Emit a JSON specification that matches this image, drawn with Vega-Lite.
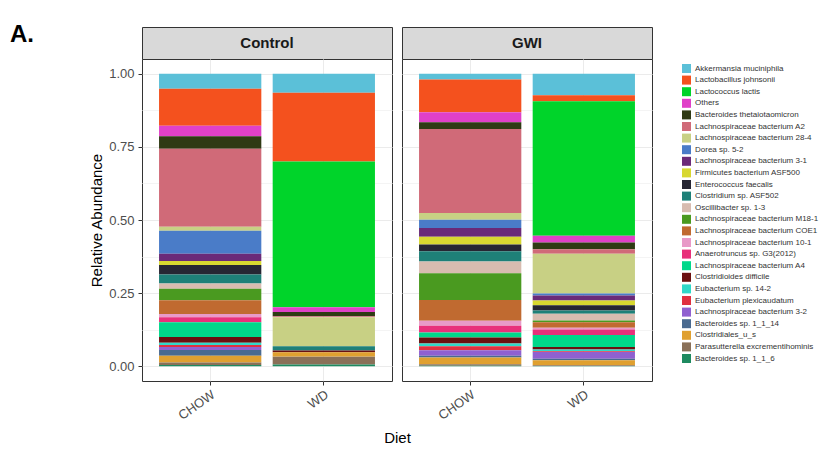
{
  "$schema": "https://vega.github.io/schema/vega-lite/v6.json",
  "background": "white",
  "padding": {"left": 10, "top": 22, "right": 5, "bottom": 5},
  "title": {"text": "A.", "anchor": "start", "frame": "group", "fontSize": 24, "fontWeight": "bold", "font": "Liberation Sans", "color": "#000000", "dx": -132, "offset": -20},
  "datasets": {
    "species": [
      {"Species": "Akkermansia muciniphila", "rank": 1},
      {"Species": "Lactobacillus johnsonii", "rank": 2},
      {"Species": "Lactococcus lactis", "rank": 3},
      {"Species": "Others", "rank": 4},
      {"Species": "Bacteroides thetaiotaomicron", "rank": 5},
      {"Species": "Lachnospiraceae bacterium A2", "rank": 6},
      {"Species": "Lachnospiraceae bacterium 28-4", "rank": 7},
      {"Species": "Dorea sp. 5-2", "rank": 8},
      {"Species": "Lachnospiraceae bacterium 3-1", "rank": 9},
      {"Species": "Firmicutes bacterium ASF500", "rank": 10},
      {"Species": "Enterococcus faecalis", "rank": 11},
      {"Species": "Clostridium sp. ASF502", "rank": 12},
      {"Species": "Oscillibacter sp. 1-3", "rank": 13},
      {"Species": "Lachnospiraceae bacterium M18-1", "rank": 14},
      {"Species": "Lachnospiraceae bacterium COE1", "rank": 15},
      {"Species": "Lachnospiraceae bacterium 10-1", "rank": 16},
      {"Species": "Anaerotruncus sp. G3(2012)", "rank": 17},
      {"Species": "Lachnospiraceae bacterium A4", "rank": 18},
      {"Species": "Clostridioides difficile", "rank": 19},
      {"Species": "Eubacterium sp. 14-2", "rank": 20},
      {"Species": "Eubacterium plexicaudatum", "rank": 21},
      {"Species": "Lachnospiraceae bacterium 3-2", "rank": 22},
      {"Species": "Bacteroides sp. 1_1_14", "rank": 23},
      {"Species": "Clostridiales_u_s", "rank": 24},
      {"Species": "Parasutterella excrementihominis", "rank": 25},
      {"Species": "Bacteroides sp. 1_1_6", "rank": 26}
    ],
    "abund": [
      {"Group": "Control", "Diet": "CHOW", "Species": "Akkermansia muciniphila", "Abundance": 0.052},
      {"Group": "Control", "Diet": "CHOW", "Species": "Lactobacillus johnsonii", "Abundance": 0.126},
      {"Group": "Control", "Diet": "CHOW", "Species": "Others", "Abundance": 0.036},
      {"Group": "Control", "Diet": "CHOW", "Species": "Bacteroides thetaiotaomicron", "Abundance": 0.043},
      {"Group": "Control", "Diet": "CHOW", "Species": "Lachnospiraceae bacterium A2", "Abundance": 0.266},
      {"Group": "Control", "Diet": "CHOW", "Species": "Lachnospiraceae bacterium 28-4", "Abundance": 0.014},
      {"Group": "Control", "Diet": "CHOW", "Species": "Dorea sp. 5-2", "Abundance": 0.078},
      {"Group": "Control", "Diet": "CHOW", "Species": "Lachnospiraceae bacterium 3-1", "Abundance": 0.025},
      {"Group": "Control", "Diet": "CHOW", "Species": "Firmicutes bacterium ASF500", "Abundance": 0.014},
      {"Group": "Control", "Diet": "CHOW", "Species": "Enterococcus faecalis", "Abundance": 0.032},
      {"Group": "Control", "Diet": "CHOW", "Species": "Clostridium sp. ASF502", "Abundance": 0.031},
      {"Group": "Control", "Diet": "CHOW", "Species": "Oscillibacter sp. 1-3", "Abundance": 0.018},
      {"Group": "Control", "Diet": "CHOW", "Species": "Lachnospiraceae bacterium M18-1", "Abundance": 0.039},
      {"Group": "Control", "Diet": "CHOW", "Species": "Lachnospiraceae bacterium COE1", "Abundance": 0.047},
      {"Group": "Control", "Diet": "CHOW", "Species": "Lachnospiraceae bacterium 10-1", "Abundance": 0.011},
      {"Group": "Control", "Diet": "CHOW", "Species": "Anaerotruncus sp. G3(2012)", "Abundance": 0.017},
      {"Group": "Control", "Diet": "CHOW", "Species": "Lachnospiraceae bacterium A4", "Abundance": 0.051},
      {"Group": "Control", "Diet": "CHOW", "Species": "Clostridioides difficile", "Abundance": 0.019},
      {"Group": "Control", "Diet": "CHOW", "Species": "Eubacterium sp. 14-2", "Abundance": 0.008},
      {"Group": "Control", "Diet": "CHOW", "Species": "Eubacterium plexicaudatum", "Abundance": 0.007},
      {"Group": "Control", "Diet": "CHOW", "Species": "Lachnospiraceae bacterium 3-2", "Abundance": 0.010},
      {"Group": "Control", "Diet": "CHOW", "Species": "Bacteroides sp. 1_1_14", "Abundance": 0.020},
      {"Group": "Control", "Diet": "CHOW", "Species": "Clostridiales_u_s", "Abundance": 0.023},
      {"Group": "Control", "Diet": "CHOW", "Species": "Parasutterella excrementihominis", "Abundance": 0.008},
      {"Group": "Control", "Diet": "CHOW", "Species": "Bacteroides sp. 1_1_6", "Abundance": 0.005},

      {"Group": "Control", "Diet": "WD", "Species": "Akkermansia muciniphila", "Abundance": 0.065},
      {"Group": "Control", "Diet": "WD", "Species": "Lactobacillus johnsonii", "Abundance": 0.235},
      {"Group": "Control", "Diet": "WD", "Species": "Lactococcus lactis", "Abundance": 0.498},
      {"Group": "Control", "Diet": "WD", "Species": "Others", "Abundance": 0.016},
      {"Group": "Control", "Diet": "WD", "Species": "Bacteroides thetaiotaomicron", "Abundance": 0.015},
      {"Group": "Control", "Diet": "WD", "Species": "Lachnospiraceae bacterium A2", "Abundance": 0.003},
      {"Group": "Control", "Diet": "WD", "Species": "Lachnospiraceae bacterium 28-4", "Abundance": 0.099},
      {"Group": "Control", "Diet": "WD", "Species": "Clostridium sp. ASF502", "Abundance": 0.015},
      {"Group": "Control", "Diet": "WD", "Species": "Clostridioides difficile", "Abundance": 0.006},
      {"Group": "Control", "Diet": "WD", "Species": "Parasutterella excrementihominis", "Abundance": 0.028},
      {"Group": "Control", "Diet": "WD", "Species": "Clostridiales_u_s", "Abundance": 0.014},
      {"Group": "Control", "Diet": "WD", "Species": "Bacteroides sp. 1_1_6", "Abundance": 0.006},

      {"Group": "GWI", "Diet": "CHOW", "Species": "Akkermansia muciniphila", "Abundance": 0.020},
      {"Group": "GWI", "Diet": "CHOW", "Species": "Lactobacillus johnsonii", "Abundance": 0.112},
      {"Group": "GWI", "Diet": "CHOW", "Species": "Others", "Abundance": 0.034},
      {"Group": "GWI", "Diet": "CHOW", "Species": "Bacteroides thetaiotaomicron", "Abundance": 0.023},
      {"Group": "GWI", "Diet": "CHOW", "Species": "Lachnospiraceae bacterium A2", "Abundance": 0.287},
      {"Group": "GWI", "Diet": "CHOW", "Species": "Lachnospiraceae bacterium 28-4", "Abundance": 0.023},
      {"Group": "GWI", "Diet": "CHOW", "Species": "Dorea sp. 5-2", "Abundance": 0.028},
      {"Group": "GWI", "Diet": "CHOW", "Species": "Lachnospiraceae bacterium 3-1", "Abundance": 0.030},
      {"Group": "GWI", "Diet": "CHOW", "Species": "Firmicutes bacterium ASF500", "Abundance": 0.027},
      {"Group": "GWI", "Diet": "CHOW", "Species": "Enterococcus faecalis", "Abundance": 0.023},
      {"Group": "GWI", "Diet": "CHOW", "Species": "Clostridium sp. ASF502", "Abundance": 0.035},
      {"Group": "GWI", "Diet": "CHOW", "Species": "Oscillibacter sp. 1-3", "Abundance": 0.040},
      {"Group": "GWI", "Diet": "CHOW", "Species": "Lachnospiraceae bacterium M18-1", "Abundance": 0.091},
      {"Group": "GWI", "Diet": "CHOW", "Species": "Lachnospiraceae bacterium COE1", "Abundance": 0.071},
      {"Group": "GWI", "Diet": "CHOW", "Species": "Lachnospiraceae bacterium 10-1", "Abundance": 0.017},
      {"Group": "GWI", "Diet": "CHOW", "Species": "Anaerotruncus sp. G3(2012)", "Abundance": 0.023},
      {"Group": "GWI", "Diet": "CHOW", "Species": "Lachnospiraceae bacterium A4", "Abundance": 0.017},
      {"Group": "GWI", "Diet": "CHOW", "Species": "Clostridioides difficile", "Abundance": 0.021},
      {"Group": "GWI", "Diet": "CHOW", "Species": "Eubacterium sp. 14-2", "Abundance": 0.009},
      {"Group": "GWI", "Diet": "CHOW", "Species": "Eubacterium plexicaudatum", "Abundance": 0.014},
      {"Group": "GWI", "Diet": "CHOW", "Species": "Lachnospiraceae bacterium 3-2", "Abundance": 0.019},
      {"Group": "GWI", "Diet": "CHOW", "Species": "Bacteroides sp. 1_1_14", "Abundance": 0.006},
      {"Group": "GWI", "Diet": "CHOW", "Species": "Clostridiales_u_s", "Abundance": 0.023},
      {"Group": "GWI", "Diet": "CHOW", "Species": "Parasutterella excrementihominis", "Abundance": 0.005},
      {"Group": "GWI", "Diet": "CHOW", "Species": "Bacteroides sp. 1_1_6", "Abundance": 0.002},

      {"Group": "GWI", "Diet": "WD", "Species": "Akkermansia muciniphila", "Abundance": 0.074},
      {"Group": "GWI", "Diet": "WD", "Species": "Lactobacillus johnsonii", "Abundance": 0.020},
      {"Group": "GWI", "Diet": "WD", "Species": "Lactococcus lactis", "Abundance": 0.460},
      {"Group": "GWI", "Diet": "WD", "Species": "Others", "Abundance": 0.023},
      {"Group": "GWI", "Diet": "WD", "Species": "Bacteroides thetaiotaomicron", "Abundance": 0.023},
      {"Group": "GWI", "Diet": "WD", "Species": "Lachnospiraceae bacterium A2", "Abundance": 0.015},
      {"Group": "GWI", "Diet": "WD", "Species": "Lachnospiraceae bacterium 28-4", "Abundance": 0.136},
      {"Group": "GWI", "Diet": "WD", "Species": "Dorea sp. 5-2", "Abundance": 0.007},
      {"Group": "GWI", "Diet": "WD", "Species": "Lachnospiraceae bacterium 3-1", "Abundance": 0.017},
      {"Group": "GWI", "Diet": "WD", "Species": "Firmicutes bacterium ASF500", "Abundance": 0.016},
      {"Group": "GWI", "Diet": "WD", "Species": "Enterococcus faecalis", "Abundance": 0.018},
      {"Group": "GWI", "Diet": "WD", "Species": "Clostridium sp. ASF502", "Abundance": 0.011},
      {"Group": "GWI", "Diet": "WD", "Species": "Oscillibacter sp. 1-3", "Abundance": 0.023},
      {"Group": "GWI", "Diet": "WD", "Species": "Lachnospiraceae bacterium M18-1", "Abundance": 0.006},
      {"Group": "GWI", "Diet": "WD", "Species": "Lachnospiraceae bacterium COE1", "Abundance": 0.019},
      {"Group": "GWI", "Diet": "WD", "Species": "Lachnospiraceae bacterium 10-1", "Abundance": 0.006},
      {"Group": "GWI", "Diet": "WD", "Species": "Anaerotruncus sp. G3(2012)", "Abundance": 0.019},
      {"Group": "GWI", "Diet": "WD", "Species": "Lachnospiraceae bacterium A4", "Abundance": 0.041},
      {"Group": "GWI", "Diet": "WD", "Species": "Clostridioides difficile", "Abundance": 0.008},
      {"Group": "GWI", "Diet": "WD", "Species": "Eubacterium sp. 14-2", "Abundance": 0.006},
      {"Group": "GWI", "Diet": "WD", "Species": "Eubacterium plexicaudatum", "Abundance": 0.003},
      {"Group": "GWI", "Diet": "WD", "Species": "Lachnospiraceae bacterium 3-2", "Abundance": 0.023},
      {"Group": "GWI", "Diet": "WD", "Species": "Bacteroides sp. 1_1_14", "Abundance": 0.005},
      {"Group": "GWI", "Diet": "WD", "Species": "Clostridiales_u_s", "Abundance": 0.017},
      {"Group": "GWI", "Diet": "WD", "Species": "Parasutterella excrementihominis", "Abundance": 0.003},
      {"Group": "GWI", "Diet": "WD", "Species": "Bacteroides sp. 1_1_6", "Abundance": 0.001}
    ]
  },
  "columns": 2,
  "spacing": {"row": 0, "column": 10},
  "bounds": "flush",
  "concat": [
    {
      "data": {"values": [{"Group": "Control"}]},
      "width": 250,
      "height": 32,
      "view": {"fill": "#d9d9d9", "stroke": "#333333", "strokeWidth": 1},
      "mark": {"type": "text", "fontSize": 15, "fontWeight": "bold", "font": "Liberation Sans", "color": "#1a1a1a"},
      "encoding": {"text": {"field": "Group", "type": "nominal"}}
    },
    {
      "data": {"values": [{"Group": "GWI"}]},
      "width": 250,
      "height": 32,
      "view": {"fill": "#d9d9d9", "stroke": "#333333", "strokeWidth": 1},
      "mark": {"type": "text", "fontSize": 15, "fontWeight": "bold", "font": "Liberation Sans", "color": "#1a1a1a"},
      "encoding": {"text": {"field": "Group", "type": "nominal"}}
    },
    {
      "data": {"name": "abund"},
      "transform": [
        {"filter": "datum.Group == 'Control'"},
        {"lookup": "Species", "from": {"data": {"name": "species"}, "key": "Species", "fields": ["rank"]}}
      ],
      "width": 250,
      "height": 322,
      "view": {"fill": "white", "stroke": "#333333", "strokeWidth": 1},
      "mark": {"type": "bar"},
      "encoding": {
        "x": {
          "field": "Diet", "type": "nominal",
          "scale": {"paddingInner": 0.1, "paddingOuter": 0.15},
          "axis": {"title": "Diet", "titleX": 255, "labelAngle": -35, "labelAlign": "right", "labelBaseline": "top", "labelFontSize": 13, "labelColor": "#4d4d4d", "tickSize": 4, "tickColor": "#333333", "domain": false, "grid": true, "gridColor": "#ebebeb", "titleFontSize": 15, "titleFontWeight": "normal", "titleColor": "#000000", "titlePadding": 8, "labelPadding": 3}
        },
        "y": {
          "field": "Abundance", "type": "quantitative", "stack": "zero",
          "scale": {"domain": [-0.05, 1.05], "nice": false, "zero": false},
          "axis": {
            "title": "Relative Abundance",
            "values": [0, 0.125, 0.25, 0.375, 0.5, 0.625, 0.75, 0.875, 1],
            "format": ".2f",
            "labelExpr": "datum.value * 4 % 1 == 0 ? datum.label : ''",
            "tickOpacity": {"condition": {"test": "datum.value * 4 % 1 == 0", "value": 1}, "value": 0},
            "gridColor": {"condition": {"test": "datum.value * 4 % 1 == 0", "value": "#ebebeb"}, "value": "#f4f4f4"},
            "tickSize": 4, "tickColor": "#333333", "domain": false,
            "labelFontSize": 13, "labelColor": "#4d4d4d", "labelPadding": 4,
            "titleFontSize": 15, "titleFontWeight": "normal", "titleColor": "#000000", "titlePadding": 4
          }
        },
        "color": {
          "field": "Species", "type": "nominal",
          "scale": {
            "domain": ["Akkermansia muciniphila", "Lactobacillus johnsonii", "Lactococcus lactis", "Others", "Bacteroides thetaiotaomicron", "Lachnospiraceae bacterium A2", "Lachnospiraceae bacterium 28-4", "Dorea sp. 5-2", "Lachnospiraceae bacterium 3-1", "Firmicutes bacterium ASF500", "Enterococcus faecalis", "Clostridium sp. ASF502", "Oscillibacter sp. 1-3", "Lachnospiraceae bacterium M18-1", "Lachnospiraceae bacterium COE1", "Lachnospiraceae bacterium 10-1", "Anaerotruncus sp. G3(2012)", "Lachnospiraceae bacterium A4", "Clostridioides difficile", "Eubacterium sp. 14-2", "Eubacterium plexicaudatum", "Lachnospiraceae bacterium 3-2", "Bacteroides sp. 1_1_14", "Clostridiales_u_s", "Parasutterella excrementihominis", "Bacteroides sp. 1_1_6"],
            "range": ["#5bc0d8", "#f4511e", "#00d42a", "#e040c8", "#2f3a14", "#d06a78", "#c8d084", "#4a7cc8", "#6a2a78", "#d8d830", "#262633", "#1e8078", "#d8bcb0", "#4a9a20", "#c06a30", "#e89ac8", "#e8307a", "#00d88a", "#6a1010", "#30d8c8", "#e03040", "#9060d0", "#4a6a90", "#e0a030", "#8a7058", "#1e8a60"]
          },
          "legend": {"title": null, "orient": "none", "legendX": 540, "legendY": 37, "padding": 0, "symbolType": "square", "symbolSize": 81, "symbolStrokeWidth": 0, "labelFontSize": 8, "labelColor": "#333333", "rowPadding": 2.6, "labelOffset": 4, "labelLimit": 200}
        },
        "order": {"field": "rank", "type": "quantitative", "sort": "descending"}
      }
    },
    {
      "data": {"name": "abund"},
      "transform": [
        {"filter": "datum.Group == 'GWI'"},
        {"lookup": "Species", "from": {"data": {"name": "species"}, "key": "Species", "fields": ["rank"]}}
      ],
      "width": 250,
      "height": 322,
      "view": {"fill": "white", "stroke": "#333333", "strokeWidth": 1},
      "mark": {"type": "bar"},
      "encoding": {
        "x": {
          "field": "Diet", "type": "nominal",
          "scale": {"paddingInner": 0.1, "paddingOuter": 0.15},
          "axis": {"title": null, "labelAngle": -35, "labelAlign": "right", "labelBaseline": "top", "labelFontSize": 13, "labelColor": "#4d4d4d", "tickSize": 4, "tickColor": "#333333", "domain": false, "grid": true, "gridColor": "#ebebeb", "labelPadding": 3}
        },
        "y": {
          "field": "Abundance", "type": "quantitative", "stack": "zero",
          "scale": {"domain": [-0.05, 1.05], "nice": false, "zero": false},
          "axis": {
            "title": null,
            "values": [0, 0.125, 0.25, 0.375, 0.5, 0.625, 0.75, 0.875, 1],
            "labels": false, "ticks": false, "domain": false,
            "gridColor": {"condition": {"test": "datum.value * 4 % 1 == 0", "value": "#ebebeb"}, "value": "#f4f4f4"}
          }
        },
        "color": {
          "field": "Species", "type": "nominal",
          "scale": {
            "domain": ["Akkermansia muciniphila", "Lactobacillus johnsonii", "Lactococcus lactis", "Others", "Bacteroides thetaiotaomicron", "Lachnospiraceae bacterium A2", "Lachnospiraceae bacterium 28-4", "Dorea sp. 5-2", "Lachnospiraceae bacterium 3-1", "Firmicutes bacterium ASF500", "Enterococcus faecalis", "Clostridium sp. ASF502", "Oscillibacter sp. 1-3", "Lachnospiraceae bacterium M18-1", "Lachnospiraceae bacterium COE1", "Lachnospiraceae bacterium 10-1", "Anaerotruncus sp. G3(2012)", "Lachnospiraceae bacterium A4", "Clostridioides difficile", "Eubacterium sp. 14-2", "Eubacterium plexicaudatum", "Lachnospiraceae bacterium 3-2", "Bacteroides sp. 1_1_14", "Clostridiales_u_s", "Parasutterella excrementihominis", "Bacteroides sp. 1_1_6"],
            "range": ["#5bc0d8", "#f4511e", "#00d42a", "#e040c8", "#2f3a14", "#d06a78", "#c8d084", "#4a7cc8", "#6a2a78", "#d8d830", "#262633", "#1e8078", "#d8bcb0", "#4a9a20", "#c06a30", "#e89ac8", "#e8307a", "#00d88a", "#6a1010", "#30d8c8", "#e03040", "#9060d0", "#4a6a90", "#e0a030", "#8a7058", "#1e8a60"]
          },
          "legend": {"title": null, "orient": "none", "legendX": 540, "legendY": 37, "padding": 0, "symbolType": "square", "symbolSize": 81, "symbolStrokeWidth": 0, "labelFontSize": 8, "labelColor": "#333333", "rowPadding": 2.6, "labelOffset": 4, "labelLimit": 200}
        },
        "order": {"field": "rank", "type": "quantitative", "sort": "descending"}
      }
    }
  ],
  "config": {
    "font": "Liberation Sans"
  }
}
